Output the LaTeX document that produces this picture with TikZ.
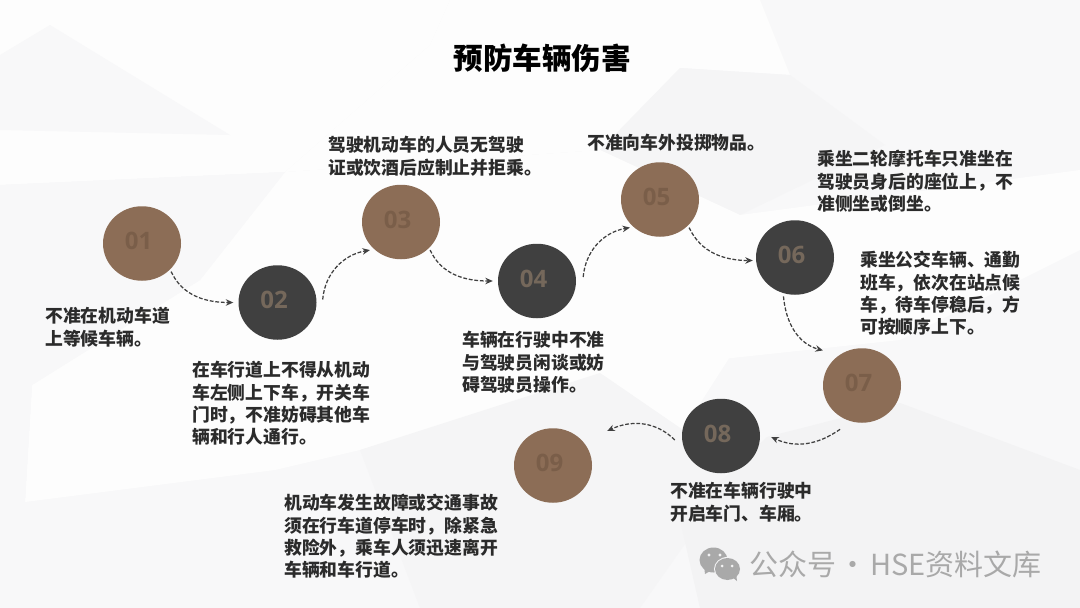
\documentclass[tikz,border=0pt]{standalone}
\usepackage{fontspec}
\setmainfont{Noto Sans CJK SC}
\newfontfamily\numfont{Open Sans}
\usetikzlibrary{arrows.meta,shapes.geometric}
\definecolor{bgbase}{HTML}{F8F8F9}
\definecolor{bgmid}{HTML}{F5F5F6}
\definecolor{bgdark}{HTML}{F3F3F4}
\definecolor{bgwhite}{HTML}{FDFDFD}
\definecolor{brownc}{HTML}{8C6D56}
\definecolor{brownt}{HTML}{7A5E49}
\definecolor{darkc}{HTML}{404040}
\definecolor{darkt}{HTML}{75685B}
\definecolor{inkc}{HTML}{2B2B2B}
\definecolor{markc}{HTML}{A9A9A9}
\newcommand{\stepnum}[1]{\hspace*{-7pt}\raisebox{5pt}{#1}}
\tikzset{
  x=1pt,y=1pt,
  brownstep/.style={ellipse,fill=brownc,text=brownt,minimum width=78pt,minimum height=74.5pt,inner sep=0pt,font=\numfont\bfseries\fontsize{24}{24}\selectfont},
  darkstep/.style={ellipse,fill=darkc,text=darkt,minimum width=78pt,minimum height=74.5pt,inner sep=0pt,font=\numfont\bfseries\fontsize{24}{24}\selectfont},
  note/.style={anchor=north west,align=left,inner sep=0pt,text=inkc,font=\bfseries\fontsize{17.8}{22.4}\selectfont},
  link/.style={draw=darkc,line width=1.25pt,dash pattern=on 3.8pt off 1.8pt,-{Stealth[length=7.5pt,width=6.5pt]}},
}
\begin{document}
\begin{tikzpicture}
\useasboundingbox (0,0) rectangle (1080,-608);
% background
\fill[bgbase] (0,0) rectangle (1080,-608);
% upper white facets
\fill[bgwhite] (0,-185) -- (285,-172) -- (430,-45) -- (450,0) -- (0,0) -- cycle;
\fill[bgbase] (50,-25) -- (230,-135) -- (0,-130) -- (0,-55) -- cycle;
\fill[bgwhite] (430,-45) -- (450,0) -- (760,0) -- (790,-75) -- (680,-68) -- (600,-150) -- (285,-172) -- cycle;
% grey facet round step 05
\fill[bgmid] (680,-68) -- (790,-75) -- (885,-145) -- (740,-215) -- (600,-150) -- cycle;
% central white facets
\fill[bgwhite] (285,-172) -- (600,-150) -- (740,-215) -- (1080,-170) -- (1080,-250) -- (900,-340) -- (620,-370) -- (360,-450) -- (275,-470) -- (25,-502) -- (32,-385) -- (200,-280) -- cycle;
\fill[bgwhite] (420,-330) -- (760,-310) -- (683,-430) -- (600,-373) -- (480,-400) -- cycle;
% lower grey facets
\fill[bgbase] (0,-185) -- (285,-172) -- (200,-280) -- (32,-385) -- (25,-502) -- (0,-505) -- cycle;
\fill[bgmid] (600,-373) -- (683,-430) -- (730,-480) -- (640,-608) -- (420,-608) -- (360,-450) -- cycle;
\fill[bgdark] (767,-437) -- (900,-403) -- (1080,-470) -- (1080,-608) -- (700,-608) -- (680,-520) -- cycle;
% title
\node (title) at (542,-58) {\bfseries\fontsize{29.5}{34}\selectfont\color{black}预防车辆伤害};
% steps
\node[brownstep] (n1) at (142,-243.5) {\stepnum{01}};
\node[darkstep]  (n2) at (277.5,-302.5) {\stepnum{02}};
\node[brownstep] (n3) at (401,-222) {\stepnum{03}};
\node[darkstep]  (n4) at (537,-281) {\stepnum{04}};
\node[brownstep] (n5) at (660,-199.5) {\stepnum{05}};
\node[darkstep]  (n6) at (795,-257.5) {\stepnum{06}};
\node[brownstep] (n7) at (862,-385.5) {\stepnum{07}};
\node[darkstep]  (n8) at (721,-436) {\stepnum{08}};
\node[brownstep] (n9) at (553,-465.5) {\stepnum{09}};
% notes
\node[note] (t1) at (45,-307) {不准在机动车道\\上等候车辆。};
\node[note] (t2) at (192,-361) {在车行道上不得从机动\\车左侧上下车，开关车\\门时，不准妨碍其他车\\辆和行人通行。};
\node[note] (t3) at (328,-136) {驾驶机动车的人员无驾驶\\证或饮酒后应制止并拒乘。};
\node[note] (t4) at (462,-331) {车辆在行驶中不准\\与驾驶员闲谈或妨\\碍驾驶员操作。};
\node[note] (t5) at (587,-134) {不准向车外投掷物品。};
\node[note] (t6) at (817,-150) {乘坐二轮摩托车只准坐在\\驾驶员身后的座位上，不\\准侧坐或倒坐。};
\node[note] (t7) at (860,-251) {乘坐公交车辆、通勤\\班车，依次在站点候\\车，待车停稳后，方\\可按顺序上下。};
\node[note] (t8) at (670,-482) {不准在车辆行驶中\\开启车门、车厢。};
\node[note] (t9) at (284,-494) {机动车发生故障或交通事故\\须在行车道停车时，除紧急\\救险外，乘车人须迅速离开\\车辆和车行道。};
% connectors
\draw[link] ([shift={(2,-1)}]n1.-45) to[out=-65,in=180] ([xshift=-5pt]n2.west);
\draw[link] ([shift={(6,3)}]n2.east) to[out=85,in=190] ([shift={(-4,-1)}]n3.-135);
\draw[link] ([shift={(2,-1)}]n3.-45) to[out=-65,in=180] ([xshift=-5pt]n4.west);
\draw[link] ([shift={(7,4)}]n4.east) to[out=85,in=190] ([shift={(-3,-1)}]n5.-135);
\draw[link] ([shift={(2,-1)}]n5.-45) to[out=-65,in=180] ([shift={(-3,-3)}]n6.west);
\draw[link] ([shift={(-5,-2)}]n6.-100) to[out=-85,in=165] ([shift={(-12,8)}]n7.135);
\draw[link] ([shift={(-3,-11)}]n7.-120) to[out=-145,in=-25] ([shift={(11,-1)}]n8.east);
\draw[link] ([shift={(-7,-4)}]n8.west) to[out=135,in=25] ([shift={(15,34.5)}]n9.east);
% watermark
\fill[markc] (713.5,-560) ellipse [x radius=14pt,y radius=12.5pt];
\fill[markc] (704,-566) -- (705,-574) -- (712,-570) -- cycle;
\fill[bgdark] (727.5,-569) ellipse [x radius=13.5pt,y radius=12pt];
\fill[markc] (727.5,-569) ellipse [x radius=12.5pt,y radius=11pt];
\fill[markc] (732,-577) -- (737,-581) -- (736,-573) -- cycle;
\fill[bgdark] (709,-555) circle (1.7pt) (720,-555) circle (1.7pt) (722,-566) circle (1.5pt) (732,-566) circle (1.5pt);
\node[anchor=west,inner sep=0pt,text=markc] (mark) at (749,-564) {\fontsize{29}{30}\selectfont 公众号\hspace{2.5pt}·\hspace{2.5pt}HSE资料文库};
\end{tikzpicture}
\end{document}
